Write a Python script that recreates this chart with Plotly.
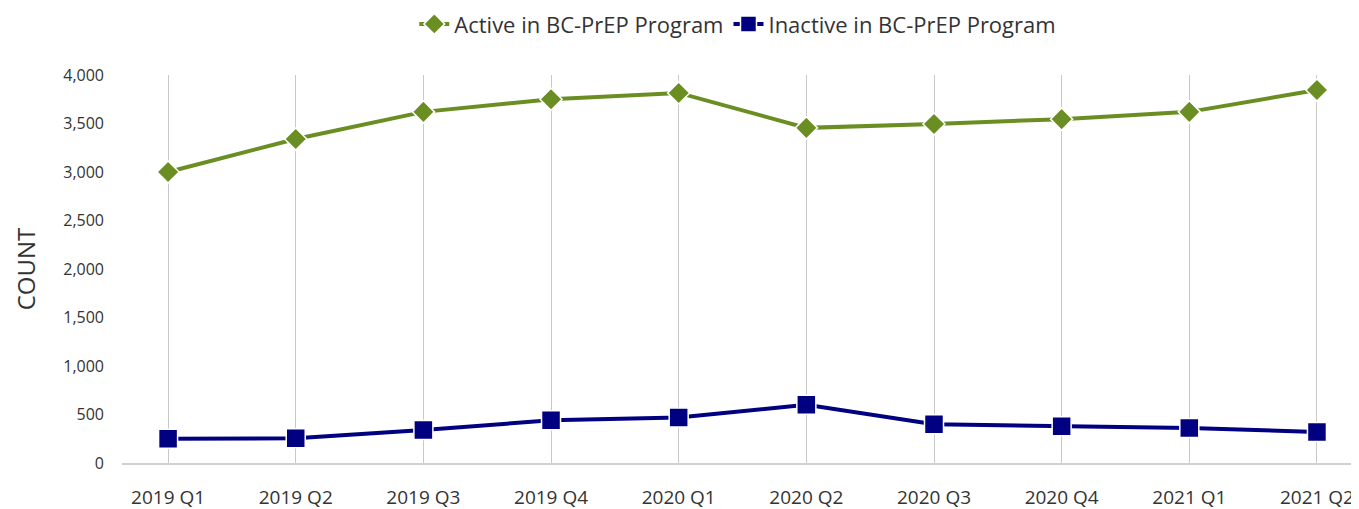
import plotly.graph_objects as go

quarters = ["2019 Q1", "2019 Q2", "2019 Q3", "2019 Q4", "2020 Q1",
            "2020 Q2", "2020 Q3", "2020 Q4", "2021 Q1", "2021 Q2"]
active = [3000, 3340, 3620, 3750, 3815, 3455, 3495, 3545, 3620, 3845]
inactive = [250, 255, 340, 440, 470, 600, 400, 380, 360, 320]

FONT = "Open Sans"
TXT = "#333333"

fig = go.Figure()
fig.add_trace(go.Scatter(
    x=quarters, y=active, name="Active in BC-PrEP Program",
    mode="lines+markers",
    line=dict(color="#6B8E23", width=4),
    marker=dict(symbol="diamond", size=17, color="#6B8E23",
                line=dict(color="white", width=1.5)),
))
fig.add_trace(go.Scatter(
    x=quarters, y=inactive, name="Inactive in BC-PrEP Program",
    mode="lines+markers",
    line=dict(color="#000080", width=4),
    marker=dict(symbol="square", size=19, color="#000080",
                line=dict(color="white", width=1.5)),
))

fig.update_layout(
    width=1359, height=509,
    margin=dict(l=114, r=6, t=67, b=54, autoexpand=False),
    plot_bgcolor="white", paper_bgcolor="white",
    font=dict(family=FONT, size=17, color=TXT),
    legend=dict(orientation="h", x=0.497, xanchor="center", y=1.131, yanchor="middle",
                font=dict(size=22, color=TXT), tracegroupgap=0),
    showlegend=True,
)
fig.update_xaxes(
    type="category", range=[-0.361, 9.345], automargin=False,
    showgrid=True, gridcolor="#c8c8c8", gridwidth=1,
    showline=True, linecolor="#d0d0d0", linewidth=2,
    ticks="", ticklabelstandoff=16,
    tickfont=dict(size=19, color=TXT),
)
fig.update_yaxes(
    range=[0, 4000], tickvals=[0, 500, 1000, 1500, 2000, 2500, 3000, 3500, 4000],
    tickformat=",d", showgrid=False, zeroline=False, showline=False,
    automargin=False, ticks="", ticklabelstandoff=17,
    tickfont=dict(size=16, color=TXT),
    title=dict(text="COUNT", font=dict(size=24, color=TXT), standoff=20),
)

fig.write_html("out.html")
